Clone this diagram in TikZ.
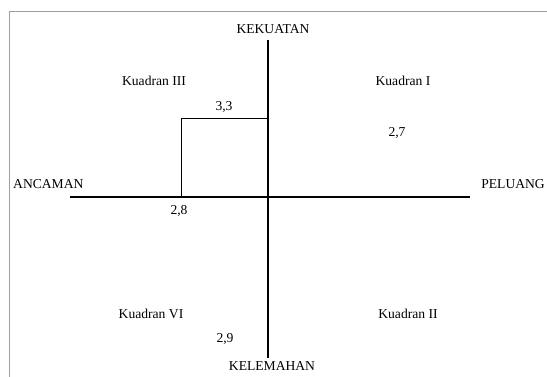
\documentclass[tikz,border=0pt]{standalone}
\usepackage{fontspec}
\setmainfont{Liberation Serif}
\begin{document}
\begin{tikzpicture}[x=1pt,y=-1pt,
  lbl/.style={inner sep=0pt,font=\fontsize{13.6}{15}\selectfont},
  axis/.style={line width=1.4pt,black},
  frameline/.style={line width=1.6pt,gray!75}]
\useasboundingbox (0,0) rectangle (547,377);
% frame
\coordinate (f1) at (9.5,377);
\coordinate (f2) at (9.5,11.5);
\coordinate (f3) at (547,11.5);
\draw[frameline] (f1) -- (f2) -- (f3);
% axes
\coordinate (vt) at (268,40);
\coordinate (vb) at (268,358);
\coordinate (hl) at (70,197);
\coordinate (hr) at (470,197);
\draw[axis] (vt) -- (vb);
\draw[axis] (hl) -- (hr);
% rectangle
\coordinate (r1) at (181,118);
\coordinate (r2) at (268,118);
\coordinate (r3) at (181,197);
\draw[line width=0.9pt] (r2) -- (r1) -- (r3);
% labels
\node[lbl] (kek) at (273,29) {KEKUATAN};
\node[lbl] (kel) at (272,366) {KELEMAHAN};
\node[lbl,anchor=west] (anc) at (13,184) {ANCAMAN};
\node[lbl,anchor=east] (pel) at (545,184) {PELUANG};
\node[lbl] (q3) at (154,81) {Kuadran III};
\node[lbl] (q1) at (403,81) {Kuadran I};
\node[lbl] (q6) at (151,314) {Kuadran VI};
\node[lbl] (q2) at (408,314) {Kuadran II};
\node[lbl] (v33) at (224,107) {3,3};
\node[lbl] (v27) at (397,133) {2,7};
\node[lbl] (v28) at (179,211) {2,8};
\node[lbl] (v29) at (225,339) {2,9};
\end{tikzpicture}
\end{document}
